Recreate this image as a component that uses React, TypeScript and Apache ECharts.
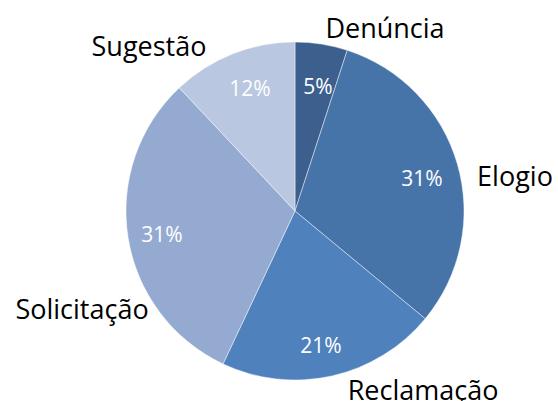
import React, { useEffect, useRef } from "react";
import * as echarts from "echarts";

const categories = ["Denúncia", "Elogio", "Reclamação", "Solicitação", "Sugestão"];
const values = [5, 31, 21, 31, 12];
const colors = ["#3D5F8E", "#4674A9", "#4F81BD", "#95AAD0", "#B9C7E1"];

// label anchor points (label layout only)
const innerLabelPos: [number, number][] = [
  [318, 86],
  [422, 178],
  [321, 345],
  [162, 234],
  [250, 88],
];
const outerLabelPos: [number, number][] = [
  [385, 27],
  [515, 175],
  [423, 389],
  [82, 308],
  [149, 45],
];

export default function App() {
  const ref = useRef<HTMLDivElement>(null);
  useEffect(() => {
    if (!ref.current) return;
    const chart = echarts.init(ref.current, undefined, { renderer: "svg" });
    const data = categories.map((name, i) => ({
      name,
      value: values[i],
      itemStyle: { color: colors[i] },
    }));
    chart.setOption({
      animation: false,
      backgroundColor: "#ffffff",
      series: [
        {
          type: "pie",
          center: [295, 211],
          radius: [0, 169],
          startAngle: 90,
          clockwise: true,
          avoidLabelOverlap: false,
          data,
          itemStyle: { borderColor: "rgba(255,255,255,0.55)", borderWidth: 0.8 },
          label: {
            show: true,
            position: "inside",
            formatter: (p: any) => `${p.value}%`,
            color: "#ffffff",
            fontFamily: "Open Sans",
            fontSize: 21,
          },
          labelLine: { show: false },
          labelLayout: (p: any) => ({
            x: innerLabelPos[p.dataIndex][0],
            y: innerLabelPos[p.dataIndex][1],
            align: "center",
            verticalAlign: "middle",
          }),
          emphasis: { disabled: true },
        },
        {
          type: "pie",
          center: [295, 211],
          radius: [0, 169],
          startAngle: 90,
          clockwise: true,
          silent: true,
          avoidLabelOverlap: false,
          data: categories.map((name, i) => ({ name, value: values[i] })),
          itemStyle: { color: "rgba(0,0,0,0)" },
          label: {
            show: true,
            position: "outside",
            formatter: "{b}",
            color: "#000000",
            fontFamily: "Open Sans",
            fontSize: 27,
          },
          labelLine: { show: false },
          labelLayout: (p: any) => ({
            x: outerLabelPos[p.dataIndex][0],
            y: outerLabelPos[p.dataIndex][1],
            align: "center",
            verticalAlign: "middle",
          }),
          emphasis: { disabled: true },
        },
      ],
    });
    return () => chart.dispose();
  }, []);
  return (
    <div
      ref={ref}
      style={{ position: "fixed", left: 0, top: 0, width: 558, height: 401 }}
    />
  );
}
